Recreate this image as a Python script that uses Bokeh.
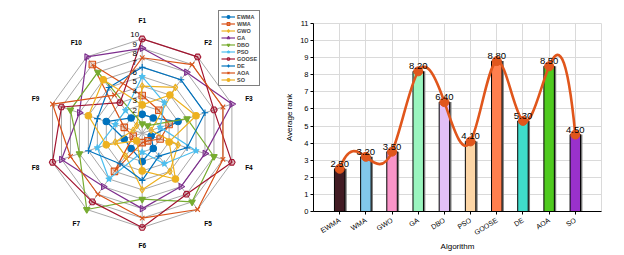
import numpy as np
from bokeh.plotting import figure
from bokeh.layouts import row
from bokeh.models import Range1d, FixedTicker, Legend, LegendItem, ColumnDataSource
from bokeh.embed import file_html
from bokeh.resources import INLINE
from bokeh.core.properties import value

# ---------------- data ----------------
functions = ["F1", "F2", "F3", "F4", "F5", "F6", "F7", "F8", "F9", "F10"]
algorithms = ["EWMA", "WMA", "GWO", "GA", "DBO", "PSO", "GOOSE", "DE", "AOA", "SO"]

EWMA = [2, 2, 4, 1, 2, 3, 2, 2, 4, 2]
WMA = [4, 3, 3, 2, 1, 1, 5, 1, 2, 9]
GWO = [5, 6, 1, 4, 5, 6, 3, 3, 1, 1]
GA = [9, 8, 10, 7, 7, 8, 7, 9, 7, 10]
DBO = [1, 1, 5, 8, 9, 7, 10, 7, 8, 8]
PSO = [6, 4, 2, 6, 4, 2, 6, 5, 3, 3]
GOOSE = [10, 10, 8, 10, 8, 10, 9, 10, 9, 4]
DE = [7, 7, 7, 5, 3, 5, 4, 6, 5, 6]
AOA = [8, 9, 9, 9, 10, 9, 8, 8, 10, 5]
SO = [3, 5, 6, 3, 6, 4, 1, 4, 6, 7]

avg_rank = [2.50, 3.20, 3.50, 8.20, 6.40, 4.10, 8.80, 5.30, 8.50, 4.50]

ring_levels = [1, 2, 3, 4, 5, 6, 7, 8, 9, 10]
ring_tick_levels = [2, 3, 4, 5, 6, 7, 8, 9, 10]
y_ticks = [0, 1, 2, 3, 4, 5, 6, 7, 8, 9, 10, 11]

# ---------------- styles ----------------
series = [EWMA, WMA, GWO, GA, DBO, PSO, GOOSE, DE, AOA, SO]
line_colors = ["#0072BD", "#D95319", "#EDB120", "#7E2F8E", "#77AC30",
               "#4DBEEE", "#A2142F", "#0072BD", "#D95319", "#EDB120"]
markers = ["circle", "square", "diamond", "triangle", "inverted_triangle",
           "star", "hex", "cross", "x", "circle"]
marker_angles = [0, 0, 0, -np.pi / 2, 0, 0, 0, 0, 0, 0]
marker_fill_alpha = [1.0, 0.25, 0.25, 0.3, 1.0, 1.0, 0.3, 1.0, 1.0, 1.0]
bar_colors = ["#421C24", "#82C8EA", "#F994C8", "#9AF5BF", "#E2BFF6",
              "#FDD6A6", "#FF7F4E", "#3FDCCB", "#4FCA1F", "#9A31CB"]
curve_color = "#E0561C"
FONT_NAME = "Liberation Sans"
FONT = value(FONT_NAME)

H = 255
W_L = 280
W_R = 624 - W_L

# ---------------- radar ----------------
unit = 9.43
cx, cy = 141.7, 132.7
rad = figure(width=W_L, height=H, output_backend="svg", toolbar_location=None,
             x_range=Range1d(-cx / unit, (W_L - cx) / unit),
             y_range=Range1d(-(H - cy) / unit, cy / unit),
             min_border=0, title=None)
rad.axis.visible = False
rad.grid.visible = False
rad.outline_line_color = None

n = len(functions)
theta = np.arange(n) * 2 * np.pi / n
sx = np.sin(theta)
sy = np.cos(theta)
sxc = np.append(sx, sx[0])
syc = np.append(sy, sy[0])

rad.multi_line([list(k * sxc) for k in ring_levels], [list(k * syc) for k in ring_levels],
               line_color="#A8A8A8", line_width=1)
rmax = max(ring_levels)
rad.multi_line([[0, rmax * a] for a in sx], [[0, rmax * b] for b in sy],
               line_color="#A8A8A8", line_width=1)

items = []
for name, vals_, col, mk, ang, fa in zip(algorithms, series, line_colors, markers,
                                          marker_angles, marker_fill_alpha):
    r = np.append(vals_, vals_[0]).astype(float)
    src = ColumnDataSource(dict(x=r * sxc, y=r * syc))
    ln = rad.line("x", "y", source=src, line_color=col, line_width=1.2)
    msrc = ColumnDataSource(dict(x=np.array(vals_) * sx, y=np.array(vals_) * sy))
    mk_r = rad.scatter("x", "y", source=msrc, marker=mk, size=6.5, angle=ang,
                       line_color=col, fill_color=col, fill_alpha=fa, line_width=1.1)
    items.append(LegendItem(label=name, renderers=[ln, mk_r]))

rad.text(x=[-0.8] * len(ring_tick_levels), y=[k + 0.45 for k in ring_tick_levels],
         text=[str(k) for k in ring_tick_levels], text_align="center",
         text_baseline="middle", text_font_size="8px", text_font=FONT, text_color="black")

lab_r = 11.9
rad.text(x=lab_r * sx, y=lab_r * sy, text=functions, text_align="center",
         text_baseline="middle", text_font_size="6.5px", text_font=FONT,
         text_font_style="bold", text_color="black")

leg = Legend(items=items, location=(218, 169), border_line_color="black",
             border_line_width=1, label_text_font_size="5.5px", label_text_font=FONT_NAME,
             label_text_font_style="bold",
             glyph_width=14, glyph_height=7, label_height=7, label_standoff=2,
             spacing=0, padding=2, margin=0, background_fill_color="white",
             background_fill_alpha=1)
rad.add_layout(leg, "center")

# ---------------- bar chart ----------------
bar = figure(width=W_R, height=H, output_backend="svg", toolbar_location=None,
             x_range=Range1d(0, 11), y_range=Range1d(0, 11), title=None,
             min_border_left=33, min_border_right=23, min_border_top=23,
             min_border_bottom=44)
for fig in (rad, bar):
    if "frame_align" in fig.properties():
        fig.frame_align = False

xpos = np.arange(1, len(algorithms) + 1)
vals = np.array(avg_rank)

bar.vbar(x=xpos + 0.07, top=vals, width=0.4, fill_color="#7A7A7A", line_color=None)
bar.vbar(x=xpos, top=vals, width=0.4, fill_color=bar_colors, line_color="black",
         line_width=1)

# cubic spline (not-a-knot) through the points, drawn as Bezier segments
m = len(xpos)
A = np.zeros((m, m))
b = np.zeros(m)
A[0, 0], A[0, 1], A[0, 2] = 1, -2, 1
A[-1, -3], A[-1, -2], A[-1, -1] = 1, -2, 1
for i in range(1, m - 1):
    A[i, i - 1], A[i, i], A[i, i + 1] = 1, 4, 1
    b[i] = 6 * (vals[i + 1] - 2 * vals[i] + vals[i - 1])
M = np.linalg.solve(A, b)
x0 = xpos[:-1].astype(float)
x1 = xpos[1:].astype(float)
y0 = vals[:-1]
y1 = vals[1:]
d0 = (y1 - y0) - (2 * M[:-1] + M[1:]) / 6
d1 = (y1 - y0) + (M[:-1] + 2 * M[1:]) / 6
bar.bezier(x0=x0, y0=y0, x1=x1, y1=y1, cx0=x0 + 1 / 3, cy0=y0 + d0 / 3,
           cx1=x1 - 1 / 3, cy1=y1 - d1 / 3, line_color=curve_color, line_width=2.6)
bar.scatter(xpos, vals, marker="circle", size=9, fill_color=curve_color,
            line_color=curve_color)
bar.text(x=xpos, y=vals, text=[f"{v:.2f}" for v in avg_rank], text_align="center",
         text_baseline="bottom", y_offset=-2, text_font_size="9.5px", text_font=FONT,
         text_color="black")

bar.xaxis.ticker = FixedTicker(ticks=list(xpos))
bar.xaxis.major_label_overrides = {int(i): a for i, a in zip(xpos, algorithms)}
bar.xaxis.major_label_orientation = 0.56
bar.yaxis.ticker = FixedTicker(ticks=y_ticks)
bar.xgrid.ticker = FixedTicker(ticks=list(range(1, 12)))
bar.grid.grid_line_color = "#DADADA"
bar.grid.grid_line_width = 1
bar.outline_line_color = "#DADADA"
bar.axis.axis_line_color = "black"
bar.axis.major_tick_line_color = "black"
bar.axis.major_tick_out = 3
bar.axis.major_tick_in = 0
bar.axis.minor_tick_line_color = None
bar.axis.major_label_text_font = FONT_NAME
bar.axis.major_label_text_font_size = "7.5px"
bar.axis.major_label_text_color = "black"
bar.axis.major_label_standoff = 2
bar.xaxis.major_label_text_font_size = "7px"
bar.xaxis.major_label_standoff = 5
bar.axis.axis_label_text_font = FONT_NAME
bar.axis.axis_label_text_font_size = "8px"
bar.axis.axis_label_text_font_style = "normal"
bar.axis.axis_label_text_color = "black"
bar.axis.axis_label_standoff = 3
bar.xaxis.axis_label_standoff = 0
bar.xaxis.axis_label = "Algorithm"
bar.yaxis.axis_label = "Average rank"

layout = row(rad, bar)
open("out.html", "w").write(file_html(layout, INLINE))
